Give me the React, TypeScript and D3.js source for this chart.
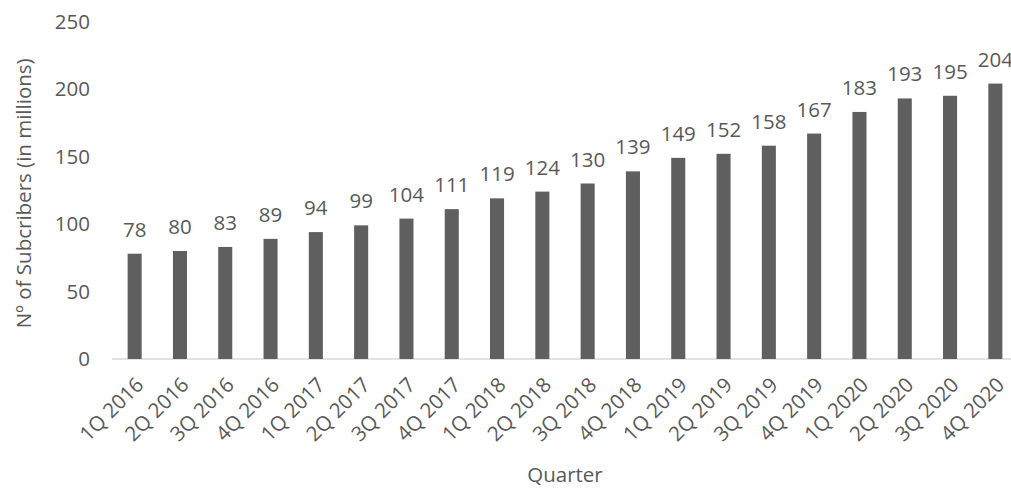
import React from "react";
import * as d3 from "d3";

const categories = ["1Q 2016","2Q 2016","3Q 2016","4Q 2016","1Q 2017","2Q 2017","3Q 2017","4Q 2017","1Q 2018","2Q 2018","3Q 2018","4Q 2018","1Q 2019","2Q 2019","3Q 2019","4Q 2019","1Q 2020","2Q 2020","3Q 2020","4Q 2020"];
const subscribers = [78,80,83,89,94,99,104,111,119,124,130,139,149,152,158,167,183,193,195,204];
const yTicks = [0,50,100,150,200,250];

const W = 1011, H = 493;
const FONT = "'Open Sans', sans-serif";
const TXT = "#595959";
const FS = 20.5;

export default function App() {
  const x = d3.scaleBand<string>().domain(categories).range([112, 1018]).paddingInner(0.69).paddingOuter(0.345);
  const y = d3.scaleLinear().domain([0, 250]).range([359, 21.5]);
  return (
    <svg width={W} height={H} style={{ position: "absolute", left: 0, top: 0, background: "#fff" }} fontFamily={FONT}>
      {yTicks.map(t => (
        <text key={t} x={90} y={y(t)} dy="0.35em" textAnchor="end" fontSize={FS} fill={TXT}>{t}</text>
      ))}
      <line x1={112} x2={1018} y1={y(0)} y2={y(0)} stroke="#d9d9d9" strokeWidth={1.5} />
      {categories.map((c, i) => {
        const bx = x(c)!;
        const cx = bx + x.bandwidth() / 2;
        return (
          <g key={c}>
            <rect x={bx} y={y(subscribers[i])} width={x.bandwidth()} height={y(0) - y(subscribers[i])} fill="#5f5f5f" />
            <text x={cx} y={y(subscribers[i]) - 17} textAnchor="middle" fontSize={FS} fill={TXT}>{subscribers[i]}</text>
            <text transform={`translate(${cx + 5},${y(0) + 22}) rotate(-45)`} textAnchor="end" dy="0.35em" fontSize={FS} fill={TXT}>{c}</text>
          </g>
        );
      })}
      <text x={565} y={482} textAnchor="middle" fontSize={FS} fill={TXT}>Quarter</text>
      <text transform={`translate(31,${(y(0) + y(250)) / 2 + 3}) rotate(-90)`} textAnchor="middle" fontSize={FS} fill={TXT}>Nº of Subcribers (in millions)</text>
    </svg>
  );
}
